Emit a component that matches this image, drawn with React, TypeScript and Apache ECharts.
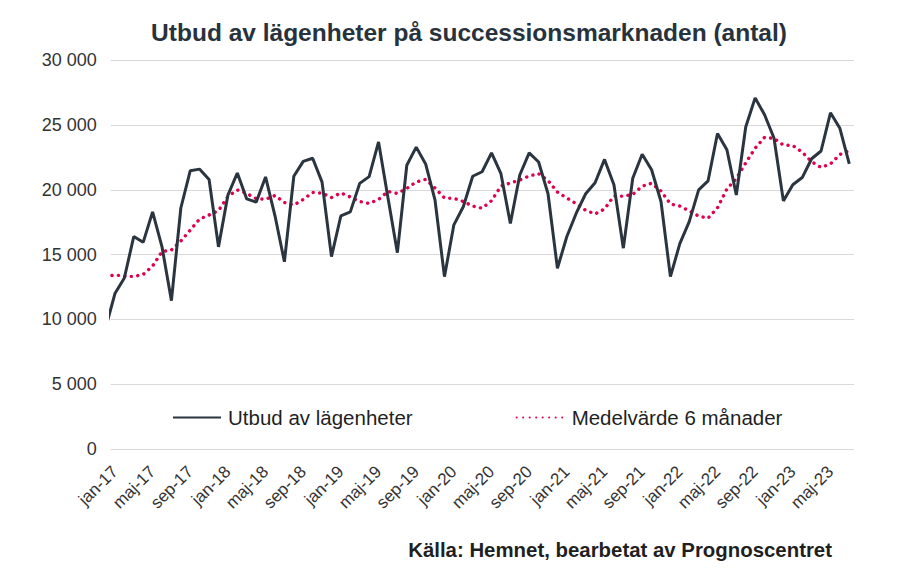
import React, { useEffect, useRef } from "react";
import * as echarts from "echarts";

// Periods: dec-16 (clipped at the left edge) through jul-23
const periods = [
  "dec-16",
  "jan-17", "feb-17", "mar-17", "apr-17", "maj-17", "jun-17", "jul-17", "aug-17", "sep-17", "okt-17", "nov-17", "dec-17",
  "jan-18", "feb-18", "mar-18", "apr-18", "maj-18", "jun-18", "jul-18", "aug-18", "sep-18", "okt-18", "nov-18", "dec-18",
  "jan-19", "feb-19", "mar-19", "apr-19", "maj-19", "jun-19", "jul-19", "aug-19", "sep-19", "okt-19", "nov-19", "dec-19",
  "jan-20", "feb-20", "mar-20", "apr-20", "maj-20", "jun-20", "jul-20", "aug-20", "sep-20", "okt-20", "nov-20", "dec-20",
  "jan-21", "feb-21", "mar-21", "apr-21", "maj-21", "jun-21", "jul-21", "aug-21", "sep-21", "okt-21", "nov-21", "dec-21",
  "jan-22", "feb-22", "mar-22", "apr-22", "maj-22", "jun-22", "jul-22", "aug-22", "sep-22", "okt-22", "nov-22", "dec-22",
  "jan-23", "feb-23", "mar-23", "apr-23", "maj-23", "jun-23", "jul-23",
];

// Utbud av lägenheter
const supply = [
  9300,
  12000, 13200, 16400, 15950, 18300, 15600, 11450, 18600, 21480, 21600, 20800, 15600,
  19600, 21300, 19300, 19050, 21000, 18000, 14450, 21050, 22200, 22440, 20600, 14850,
  18000, 18300, 20500, 21020, 23700, 19400, 15150, 21900, 23300, 22000, 19200, 13300,
  17300, 18700, 21050, 21400, 22850, 21250, 17400, 21150, 22850, 22150, 19700, 13950,
  16400, 18200, 19700, 20550, 22350, 20400, 15500, 20900, 22750, 21550, 19100, 13300,
  15850, 17550, 20000, 20700, 24350, 23100, 19600, 24850, 27100, 25800, 24000, 19150,
  20400, 20950, 22400, 23000, 25950, 24750, 22000,
];

// Medelvärde 6 månader
const movingAvg = [
  13300,
  13430, 13350, 13310, 13470, 14120, 15240, 15360, 16050, 16900, 17750, 18060, 18400,
  19490, 19990, 19720, 19330, 19270, 19560, 19020, 18830, 19260, 19800, 19750, 19410,
  19760, 19450, 19100, 18950, 19260, 19880, 19720, 20110, 20610, 20810, 20140, 19370,
  19350, 19100, 18750, 18580, 19160, 20290, 20530, 20760, 21070, 21250, 20720, 19830,
  19370, 18930, 18420, 18140, 18520, 19530, 19510, 19650, 20280, 20510, 19910, 18910,
  18750, 18370, 17980, 17810, 18620, 20070, 20870, 22090, 23210, 24060, 23970, 23460,
  23420, 22910, 22170, 21730, 22000, 22730, 23020,
];

// Tick label positions (month index from jan-17 = 0)
const tickIndices = [0, 4, 8, 12, 16, 20, 24, 28, 32, 36, 40, 44, 48, 52, 56, 60, 64, 68, 72, 76];

const seriesNames = ["Utbud av lägenheter", "Medelvärde 6 månader"];

const FONT = "'Liberation Sans', Arial, sans-serif";

const fmt = (v: number) =>
  String(v).replace(/\B(?=(\d{3})+(?!\d))/g, " ");

export default function App() {
  const ref = useRef<HTMLDivElement>(null);

  useEffect(() => {
    if (!ref.current) return;
    const chart = echarts.init(ref.current, undefined, { renderer: "svg" });
    const toPairs = (arr: number[]) => arr.map((v, i) => [i - 1, v]);

    chart.setOption({
      animation: false,
      backgroundColor: "#ffffff",
      textStyle: { fontFamily: FONT },
      title: {
        text: "Utbud av lägenheter på successionsmarknaden (antal)",
        left: 464,
        textAlign: "center",
        top: 15,
        textStyle: {
          fontFamily: FONT,
          fontSize: 24.5,
          fontWeight: "bold",
          color: "#28323c",
        },
      },
      graphic: [
        {
          type: "text",
          right: 68,
          top: 540,
          style: {
            text: "Källa: Hemnet, bearbetat av Prognoscentret",
            font: `bold 20.4px ${FONT}`,
            fill: "#1f1f1f",
          },
        },
      ],
      legend: {
        left: 172,
        top: 407,
        padding: 0,
        itemWidth: 48,
        itemHeight: 18,
        itemGap: 103,
        itemStyle: { opacity: 0 },
        textStyle: { fontFamily: FONT, fontSize: 20.5, color: "#1f1f1f", padding: [0, 0, 0, 2] },
        data: seriesNames,
      },
      grid: {
        left: 110.7,
        right: 46,
        top: 60.3,
        bottom: 126,
        containLabel: false,
      },
      xAxis: {
        type: "value",
        min: -0.45,
        max: 78.5,
        axisLine: { show: false },
        axisTick: { show: false },
        splitLine: { show: false },
        axisLabel: {
          customValues: tickIndices,
          formatter: (v: number) => periods[Math.round(v) + 1],
          rotate: 45,
          fontFamily: FONT,
          fontSize: 17,
          color: "#333333",
          margin: 20,
        },
      },
      yAxis: {
        type: "value",
        min: 0,
        max: 30000,
        interval: 5000,
        axisLine: { show: false },
        axisTick: { show: false },
        splitLine: { lineStyle: { color: "#d9d9d9", width: 1 } },
        axisLabel: {
          formatter: (v: number) => fmt(v),
          fontFamily: FONT,
          fontSize: 18,
          color: "#333333",
          margin: 14,
        },
      },
      series: [
        {
          name: seriesNames[0],
          type: "line",
          data: toPairs(supply),
          symbol: "none",
          clip: true,
          lineStyle: { color: "#2b3540", width: 3 },
          itemStyle: { color: "#2b3540" },
          z: 3,
        },
        {
          name: seriesNames[1],
          type: "line",
          data: toPairs(movingAvg),
          symbol: "none",
          clip: true,
          lineStyle: { color: "#e0004d", width: 3.4, type: [0.1, 6.4], cap: "round" },
          itemStyle: { color: "#e0004d" },
          z: 2,
        },
      ],
    });

    return () => chart.dispose();
  }, []);

  return (
    <div
      ref={ref}
      style={{ position: "fixed", left: 0, top: 0, width: 900, height: 575 }}
    />
  );
}
